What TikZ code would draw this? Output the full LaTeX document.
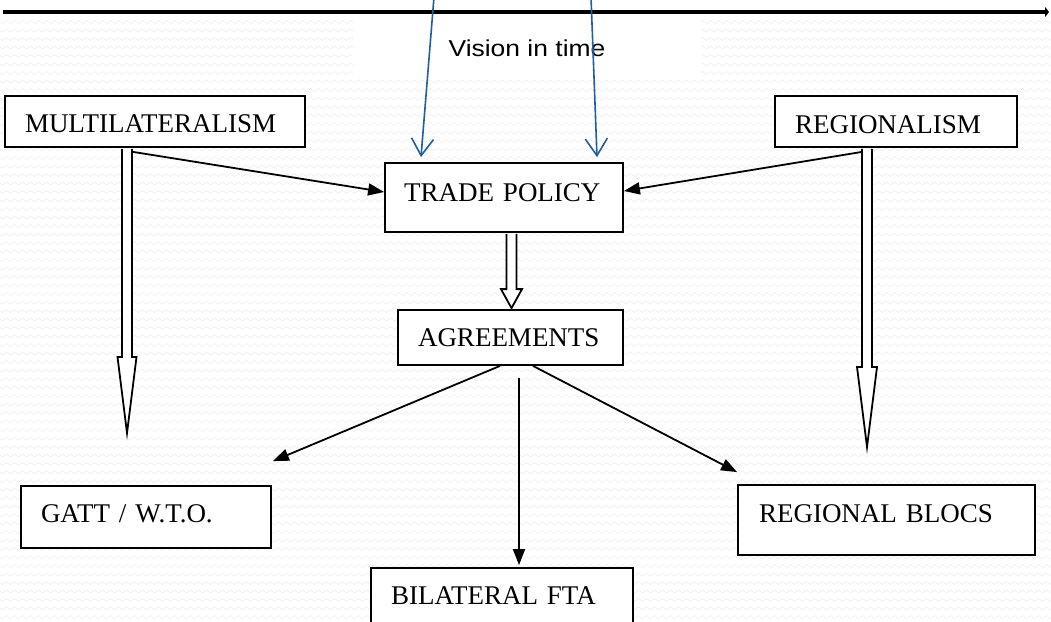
\documentclass[tikz,border=0pt]{standalone}
\usepackage{fontspec}
\setmainfont{Liberation Serif}
\newfontfamily\visionfont[FakeStretch=1.15]{Liberation Sans}
\usetikzlibrary{arrows.meta,calc,decorations.pathmorphing}

\definecolor{visionblue}{RGB}{31,95,160}
\newcommand{\boxfont}{\fontsize{27pt}{31pt}\selectfont}
% hollow arrow: top, tip, head length, head half width
\newcommand{\hollowarrow}[4]{%
\draw[fatarrow] ($(#1)+(-5,0)$) -- ($(#2)+(-5,-#3)$) -- ($(#2)+(-#4,-#3)$) -- (#2)
  -- ($(#2)+(#4,-#3)$) -- ($(#2)+(5,-#3)$) -- ($(#1)+(5,0)$);}

\tikzset{
  box/.style={draw, line width=1.8pt, fill=white, inner ysep=0pt, align=left,
    font=\boxfont, text depth=0pt},
  link/.style={line width=1.8pt, -{Triangle[length=16pt,width=12pt]}},
  fatarrow/.style={line width=1.8pt, fill=white, line join=miter},
  vision/.style={draw=visionblue, line width=1.6pt, -{Straight Barb[length=17pt,width=22pt]}},
  bgwave/.style={draw=black!6, line width=0.7pt, decorate,
    decoration={snake, segment length=8pt, amplitude=1.5pt}}
}

\begin{document}
\begin{tikzpicture}[x=1pt,y=-1pt]
\useasboundingbox (0,0) rectangle (1051,621);
\fill[white] (0,0) rectangle (1051,621);
% background texture
\foreach \r in {0,...,70}
  \draw[bgwave] (-4,22+8.5*\r) -- (1055,22+8.5*\r);

% time line
\node[fill=white, minimum width=348pt, minimum height=57pt, inner sep=0pt,
  font=\visionfont\fontsize{23pt}{27pt}\selectfont] (vision) at (527,48.5) {Vision in time};
\coordinate (tstart) at (3,12);
\coordinate (tend) at (1049,12);
\draw[line width=4.5pt, -{Triangle[length=4pt,width=10pt]}] (tstart) -- (tend);

% boxes
\node[box, minimum height=51pt, inner xsep=20pt, text width=260pt, text height=21pt] (multi) at (155,121.5) {MULTILATERALISM};
\node[box, minimum height=51pt, inner xsep=20pt, text width=202pt, text height=23pt] (regio) at (896,121.5) {REGIONALISM};
\node[box, minimum height=69pt, inner xsep=19pt, text width=200pt, text height=7pt] (trade) at (504,197.5) {TRADE POLICY};
\node[box, minimum height=55pt, inner xsep=20pt, text width=185pt, text height=17pt] (agree) at (510.5,337.5) {AGREEMENTS};
\node[box, minimum height=62pt, inner xsep=20pt, text width=210pt, text height=10pt] (gatt) at (146,517) {GATT / W.T.O.};
\node[box, minimum height=70pt, inner xsep=20pt, text width=222pt, text height=2pt] (bilat) at (502,603) {BILATERAL FTA};
\node[box, minimum height=70pt, inner xsep=21pt, text width=255pt, text height=4pt] (blocs) at (886.5,520) {REGIONAL BLOCS};

% hollow arrows
\coordinate (mtop) at ($(multi.south)+(-28,1)$);
\coordinate (mtip) at (127,433);
\coordinate (rtop) at ($(regio.south)+(-29,1)$);
\coordinate (rtip) at (867,447);
\coordinate (ttop) at ($(trade.south)+(7.5,1)$);
\coordinate (ttip) at ($(agree.north)+(1,-1)$);
\hollowarrow{mtop}{mtip}{76}{9.5}
\hollowarrow{rtop}{rtip}{80}{10}
\hollowarrow{ttop}{ttip}{19}{10.5}

% links
\draw[link] ($(multi.south)+(-22,4)$) -- ($(trade.west)+(0,-5.5)$);
\draw[link] ($(regio.south)+(-34,4)$) -- ($(trade.east)+(0,-6.5)$);
\draw[link] ($(agree.south)+(-10.5,0)$) -- ($(gatt.north east)+(1,-24)$);
\draw[link] ($(agree.south)+(8.5,12)$) -- ($(bilat.north)+(17,-2)$);
\draw[link] ($(agree.south)+(22.5,0)$) -- ($(blocs.north west)+(0,-12)$);

% vision arrows
\coordinate (v1) at (434,-3);
\coordinate (v2) at (591,-3);
\draw[vision] (v1) -- ($(trade.north)+(-83,-5)$);
\draw[vision] (v2) -- ($(trade.north)+(93,-5)$);
\end{tikzpicture}
\end{document}
